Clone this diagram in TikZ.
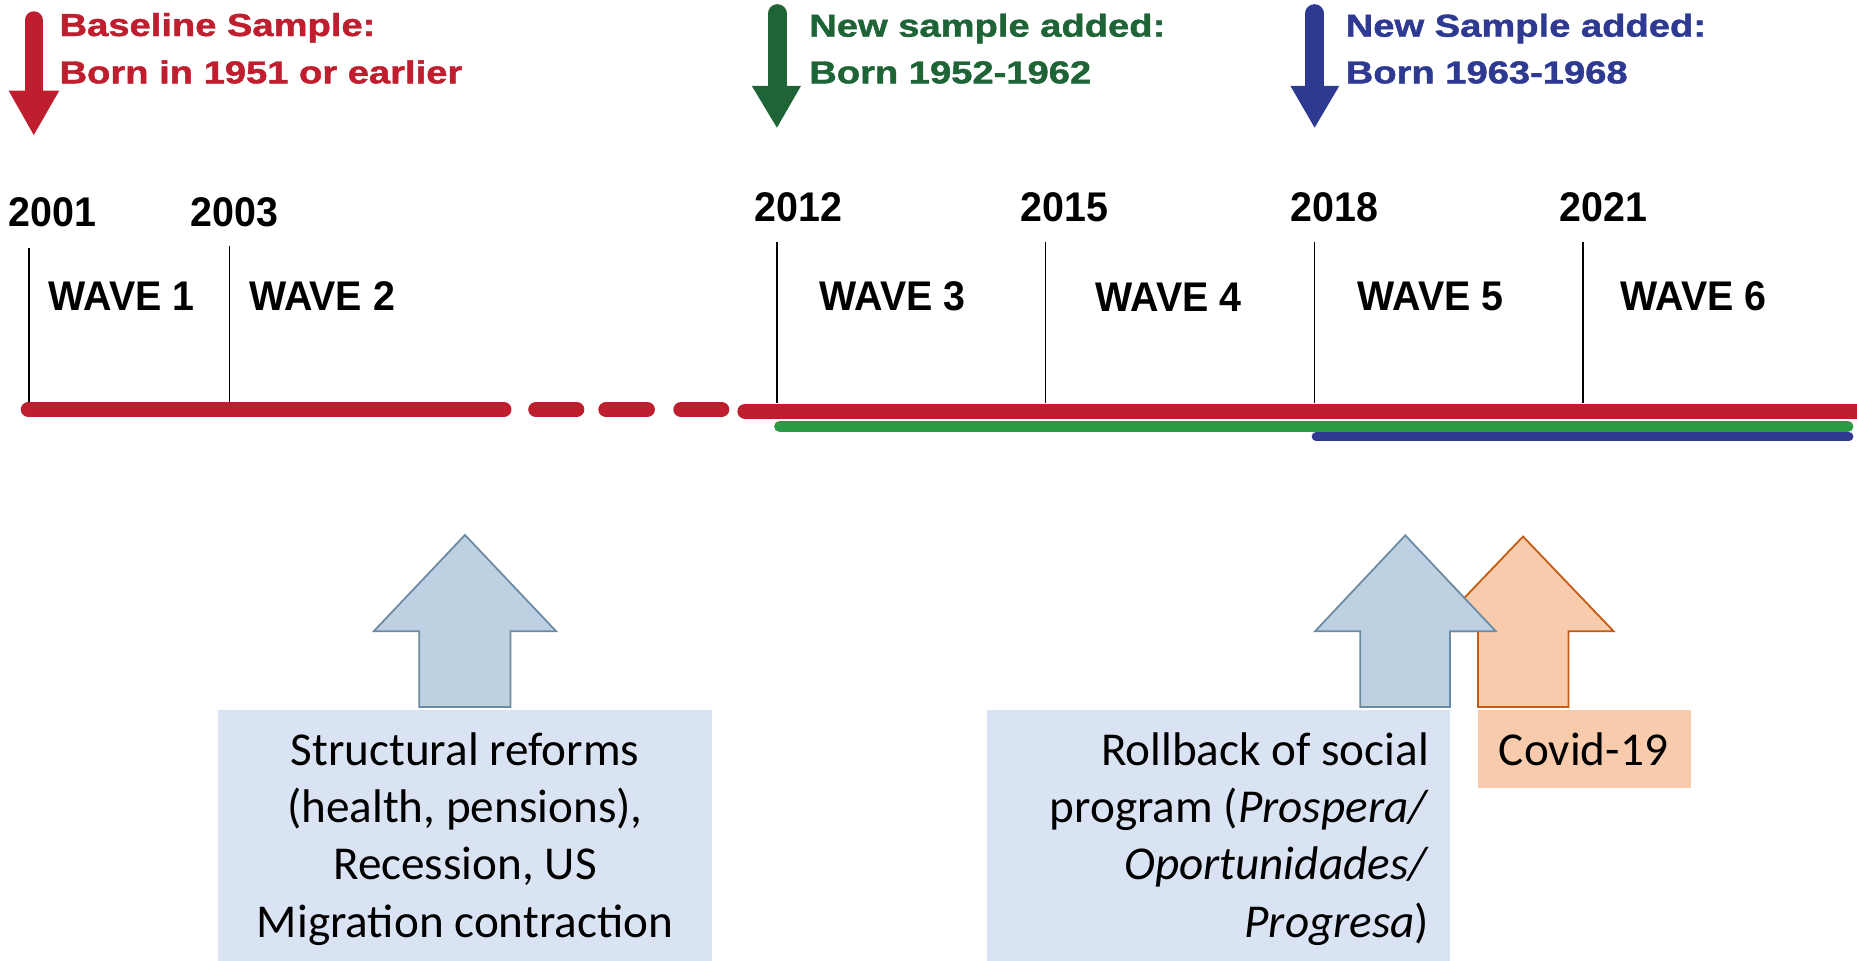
\documentclass[tikz,border=0pt]{standalone}
\usepackage{fontspec}
\usepackage{graphicx}
\setmainfont{Carlito}
\newfontfamily\lsans{Liberation Sans}
\newfontfamily\hdrfam{Liberation Sans Bold}[FakeBold=1.2]
\definecolor{cred}{HTML}{BE1E2D}
\definecolor{cdgreen}{HTML}{1E6437}
\definecolor{cgreen}{HTML}{2A9A44}
\definecolor{cblue}{HTML}{2E3A92}
\definecolor{boxblue}{HTML}{DAE3F3}
\definecolor{arrblue}{HTML}{BED1E3}
\definecolor{arrblueline}{HTML}{6D8AA3}
\definecolor{corange}{HTML}{F8CBAD}
\definecolor{corangeline}{HTML}{C55A11}
\newcommand{\hdrfont}{\hdrfam\fontsize{16.1pt}{24pt}\selectfont}
\newcommand{\yrfont}{\lsans\bfseries\fontsize{21pt}{24pt}\selectfont}
\newcommand{\boxfont}{\fontsize{23.9pt}{29.04pt}\selectfont}
\newcommand{\hs}[1]{\scalebox{1.2}[1]{#1}}
\newcommand{\ys}[1]{\scalebox{0.95}[1]{#1}}
\begin{document}
\begin{tikzpicture}[x=0.6pt,y=-0.6pt,
  hdr/.style={font=\hdrfont,inner sep=0pt,anchor=base west},
  yr/.style={font=\yrfont,inner sep=0pt,anchor=base},
  wave/.style={font=\yrfont,inner sep=0pt,anchor=base west},
  tick/.style={draw=black,line width=0.75pt},
  redline/.style={draw=cred,line width=7.9pt,line cap=round},
  greenline/.style={draw=cgreen,line width=5.6pt,line cap=round},
  blueline/.style={draw=cblue,line width=4.4pt,line cap=round},
  bluearr/.style={fill=arrblue,draw=arrblueline,line width=0.9pt},
  orarr/.style={fill=corange,draw=corangeline,line width=0.9pt},
  boxtext/.style={font=\boxfont,inner sep=0pt,text=black}]
\path[use as bounding box] (0,0) rectangle (1568,811);

% ---- top sample arrows ----
\draw[cred,line width=9pt,line cap=round] (28.5,17) -- (28.5,80);
\fill[cred] (7.3,76.6) -- (50,76.6) -- (28.5,114) -- cycle;
\draw[cdgreen,line width=9.6pt,line cap=round] (656.3,11.5) -- (656.3,76);
\fill[cdgreen] (634.7,72.4) -- (676.4,72.4) -- (656,107.8) -- cycle;
\draw[cblue,line width=9.6pt,line cap=round] (1110,11.5) -- (1110,76);
\fill[cblue] (1089.5,72.4) -- (1130.9,72.4) -- (1110,107.8) -- cycle;

% ---- headers ----
\node[hdr,text=cred] (hA1) at (50,30.4) {\hs{Baseline Sample:}};
\node[hdr,text=cred] (hA2) at (50,70.4) {\hs{Born in 1951 or earlier}};
\node[hdr,text=cdgreen] (hB1) at (683,31) {\hs{New sample added:}};
\node[hdr,text=cdgreen] (hB2) at (683,70.4) {\hs{Born 1952-1962}};
\node[hdr,text=cblue] (hC1) at (1136,31) {\hs{New Sample added:}};
\node[hdr,text=cblue] (hC2) at (1136,70.4) {\hs{Born 1963-1968}};

% ---- years ----
\node[yr] (y2001) at (44.5,191.4) {\ys{2001}};
\node[yr] (y2003) at (198,191.4) {\ys{2003}};
\node[yr] (y2012) at (674.3,187.2) {\ys{2012}};
\node[yr] (y2015) at (898.5,187.2) {\ys{2015}};
\node[yr] (y2018) at (1127,187.2) {\ys{2018}};
\node[yr] (y2021) at (1354,187.2) {\ys{2021}};

% ---- ticks ----
\coordinate (k1a) at (24.5,209.7);  \coordinate (k1b) at (24.5,339.5);
\coordinate (k2a) at (193.8,207.7); \coordinate (k2b) at (193.8,339.5);
\coordinate (k3a) at (656,204);     \coordinate (k3b) at (656,340);
\coordinate (k4a) at (882.7,204);   \coordinate (k4b) at (882.7,340);
\coordinate (k5a) at (1109.7,204);  \coordinate (k5b) at (1109.7,340);
\coordinate (k6a) at (1336.6,204);  \coordinate (k6b) at (1336.6,340);
\foreach \k in {1,...,6} {\draw[tick] (k\k a) -- (k\k b);}

% ---- waves ----
\node[wave] (w1) at (41,262.3) {\ys{WAVE 1}};
\node[wave] (w2) at (210,262.3) {\ys{WAVE 2}};
\node[wave] (w3) at (692,262.3) {\ys{WAVE 3}};
\node[wave] (w4) at (925,262.8) {\ys{WAVE 4}};
\node[wave] (w5) at (1146,262.3) {\ys{WAVE 5}};
\node[wave] (w6) at (1368,262.3) {\ys{WAVE 6}};

% ---- timeline ----
\draw[redline] (24.1,345.8) -- (425.3,345.8);
\draw[redline] (452.6,345.8) -- (486.8,345.8);
\draw[redline] (511.8,345.8) -- (546.4,345.8);
\draw[redline] (575.1,345.8) -- (609.2,345.8);
\draw[redline] (629.2,347.3) -- (1580,347.3);
\draw[greenline] (658.3,360.1) -- (1560.3,360.1);
\draw[blueline] (1111.2,368.7) -- (1561.3,368.7);

% ---- bottom arrows ----
\draw[bluearr] (392.6,451.7) -- (469.6,533) -- (431,533) -- (431,597) -- (354,597) -- (354,533) -- (315.6,533) -- cycle;
\draw[orarr] (1286,453) -- (1362.5,533) -- (1324.3,533) -- (1324.3,597) -- (1248,597) -- (1248,533) -- (1209.5,533) -- cycle;
\draw[bluearr] (1186.6,452) -- (1263,533) -- (1224.4,533) -- (1224.4,597) -- (1148.6,597) -- (1148.6,533) -- (1110.4,533) -- cycle;

% ---- boxes ----
\fill[boxblue] (184,599.5) rectangle (601,815);
\fill[boxblue] (833.4,599.5) rectangle (1224.4,815);
\fill[corange] (1248,599.5) rectangle (1428,665);

\node[boxtext,anchor=base] (bL) at (392.6,646) {\parbox[t]{400pt}{\centering Structural reforms\\(health, pensions),\\Recession, US\\Migration contraction}};
\node[boxtext,anchor=base east] (bR) at (1207,646) {\parbox[t]{300pt}{\raggedleft Rollback of social\\program (\textit{Prospera/}\\\textit{Oportunidades/}\\\textit{Progresa})}};
\node[boxtext,anchor=base] (bC) at (1337,646) {Covid-19};
\end{tikzpicture}
\end{document}
